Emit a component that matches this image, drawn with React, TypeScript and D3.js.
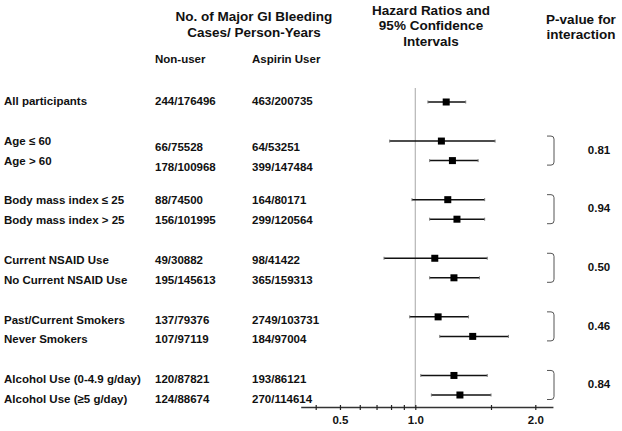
import React, { useEffect, useRef } from 'react';
import * as d3 from 'd3';

// rows, top to bottom (slot = vertical position, empty slots between groups)
const labels = [
  'All participants',
  'Age \u2264 60',
  'Age > 60',
  'Body mass index \u2264 25',
  'Body mass index > 25',
  'Current NSAID Use',
  'No Current NSAID Use',
  'Past/Current Smokers',
  'Never Smokers',
  'Alcohol Use (0-4.9 g/day)',
  'Alcohol Use (\u22655 g/day)',
];
const slots = [0, 2, 3, 5, 6, 8, 9, 11, 12, 14, 15];
const nonUser = ['244/176496', '66/75528', '178/100968', '88/74500', '156/101995', '49/30882', '195/145613', '137/79376', '107/97119', '120/87821', '124/88674'];
const aspirinUser = ['463/200735', '64/53251', '399/147484', '164/80171', '299/120564', '98/41422', '365/159313', '2749/103731', '184/97004', '193/86121', '270/114614'];

// hazard ratios and 95% CI
const hr = [1.18, 1.15, 1.22, 1.19, 1.25, 1.11, 1.23, 1.13, 1.36, 1.23, 1.27];
const lower = [1.07, 0.79, 1.08, 0.97, 1.08, 0.75, 1.08, 0.95, 1.14, 1.03, 1.09];
const upper = [1.31, 1.54, 1.4, 1.45, 1.45, 1.47, 1.41, 1.33, 1.68, 1.47, 1.5];

// p-value for interaction, per pair of rows
const pairs = [[1, 2], [3, 4], [5, 6], [7, 8], [9, 10]];
const pValues = ['0.81', '0.94', '0.50', '0.46', '0.84'];

const tickValues = [0.4, 0.5, 0.6, 0.7, 0.8, 0.9, 1, 1.5, 2];
const labelledTicks = [0.5, 1, 2];

const W = 622;
const H = 431;
const FONT = 'Liberation Sans, Arial, sans-serif';

export default function App() {
  const axisRef = useRef<SVGGElement>(null);

  // the printed scale is stretched differently on each side of 1.0
  const x = d3.scaleLog().domain([0.4, 1, 1.5, 2]).range([315.7, 415.3, 491, 535.3]);
  const yMark = d3.scaleLinear().domain([0, 15]).range([102, 395]);
  const yText = d3.scaleLinear().domain([0, 15]).range([101, 399]);
  const axisY = 407.5;

  useEffect(() => {
    const g = d3.select(axisRef.current);
    g.selectAll('*').remove();
    g.call(
      d3.axisBottom(x)
        .tickValues(tickValues)
        .tickSize(2.5)
        .tickPadding(6)
        .tickFormat((d) => (labelledTicks.includes(+d) ? d3.format('.1f')(+d) : ''))
    );
    g.select('.domain').remove();
    g.selectAll('.tick line').attr('y1', -2.5).attr('stroke', '#222').attr('stroke-width', 1.2);
    g.selectAll('.tick text')
      .attr('font-family', FONT)
      .attr('font-size', 11.5)
      .attr('font-weight', 'bold')
      .attr('fill', '#111');
  }, []);

  const sq = 7;

  return (
    <svg
      width={W}
      height={H}
      style={{ position: 'absolute', left: 0, top: 0, background: '#fff' }}
      fontFamily={FONT}
    >
      {/* headers */}
      <g fontWeight="bold" fontSize={13.5} textAnchor="middle" fill="#111">
        <text x={254} y={21}>No. of Major GI Bleeding</text>
        <text x={254} y={37}>Cases/ Person-Years</text>
        <text x={431} y={15}>Hazard Ratios and</text>
        <text x={431} y={30}>95% Confidence</text>
        <text x={431} y={46}>Intervals</text>
        <text x={581} y={24}>P-value for</text>
        <text x={581} y={39}>interaction</text>
      </g>
      <g fontWeight="bold" fontSize={11.5} fill="#111">
        <text x={155} y={63}>Non-user</text>
        <text x={252} y={63}>Aspirin User</text>
      </g>

      {/* row texts */}
      <g fontWeight="bold" fontSize={11.5} fill="#111">
        {labels.map((l, i) => {
          const ty = yText(slots[i]) + 4;
          const shift = i === 1 || i === 2 ? 6 : 0;
          return (
            <g key={l}>
              <text x={4} y={ty}>{l}</text>
              <text x={155} y={ty + shift}>{nonUser[i]}</text>
              <text x={252} y={ty + shift}>{aspirinUser[i]}</text>
            </g>
          );
        })}
      </g>

      {/* reference line at 1.0 */}
      <line x1={x(1)} x2={x(1)} y1={88} y2={axisY} stroke="#b5b5b5" strokeWidth={1.2} />

      {/* confidence intervals and point estimates */}
      {hr.map((v, i) => {
        const cy = yMark(slots[i]);
        return (
          <g key={i}>
            <line x1={x(lower[i])} x2={x(upper[i])} y1={cy} y2={cy} stroke="#111" strokeWidth={1.5} />
            <line x1={x(lower[i])} x2={x(lower[i])} y1={cy - 1.5} y2={cy + 1.5} stroke="#777" strokeWidth={1} />
            <line x1={x(upper[i])} x2={x(upper[i])} y1={cy - 1.5} y2={cy + 1.5} stroke="#777" strokeWidth={1} />
            <rect x={x(v) - sq / 2} y={cy - sq / 2} width={sq} height={sq} fill="#000" />
          </g>
        );
      })}

      {/* brackets and p-values */}
      {pairs.map(([a, b], k) => {
        const top = yMark(slots[a]) - 5;
        const bot = yMark(slots[b]) + 4.5;
        const x0 = 547;
        const x1 = 554;
        const r = 3;
        const d = `M${x0},${top} L${x1 - r},${top} Q${x1},${top} ${x1},${top + r} L${x1},${bot - r} Q${x1},${bot} ${x1 - r},${bot} L${x0},${bot}`;
        return (
          <g key={k}>
            <path d={d} fill="none" stroke="#555" strokeWidth={1} />
            <text
              x={599}
              y={(yMark(slots[a]) + yMark(slots[b])) / 2 + 3}
              textAnchor="middle"
              fontWeight="bold"
              fontSize={11.5}
              fill="#111"
            >
              {pValues[k]}
            </text>
          </g>
        );
      })}

      {/* x axis */}
      <line x1={x(0.35)} x2={x(2.25)} y1={axisY} y2={axisY} stroke="#333" strokeWidth={1.5} />
      <g ref={axisRef} transform={`translate(0,${axisY})`} />
    </svg>
  );
}
